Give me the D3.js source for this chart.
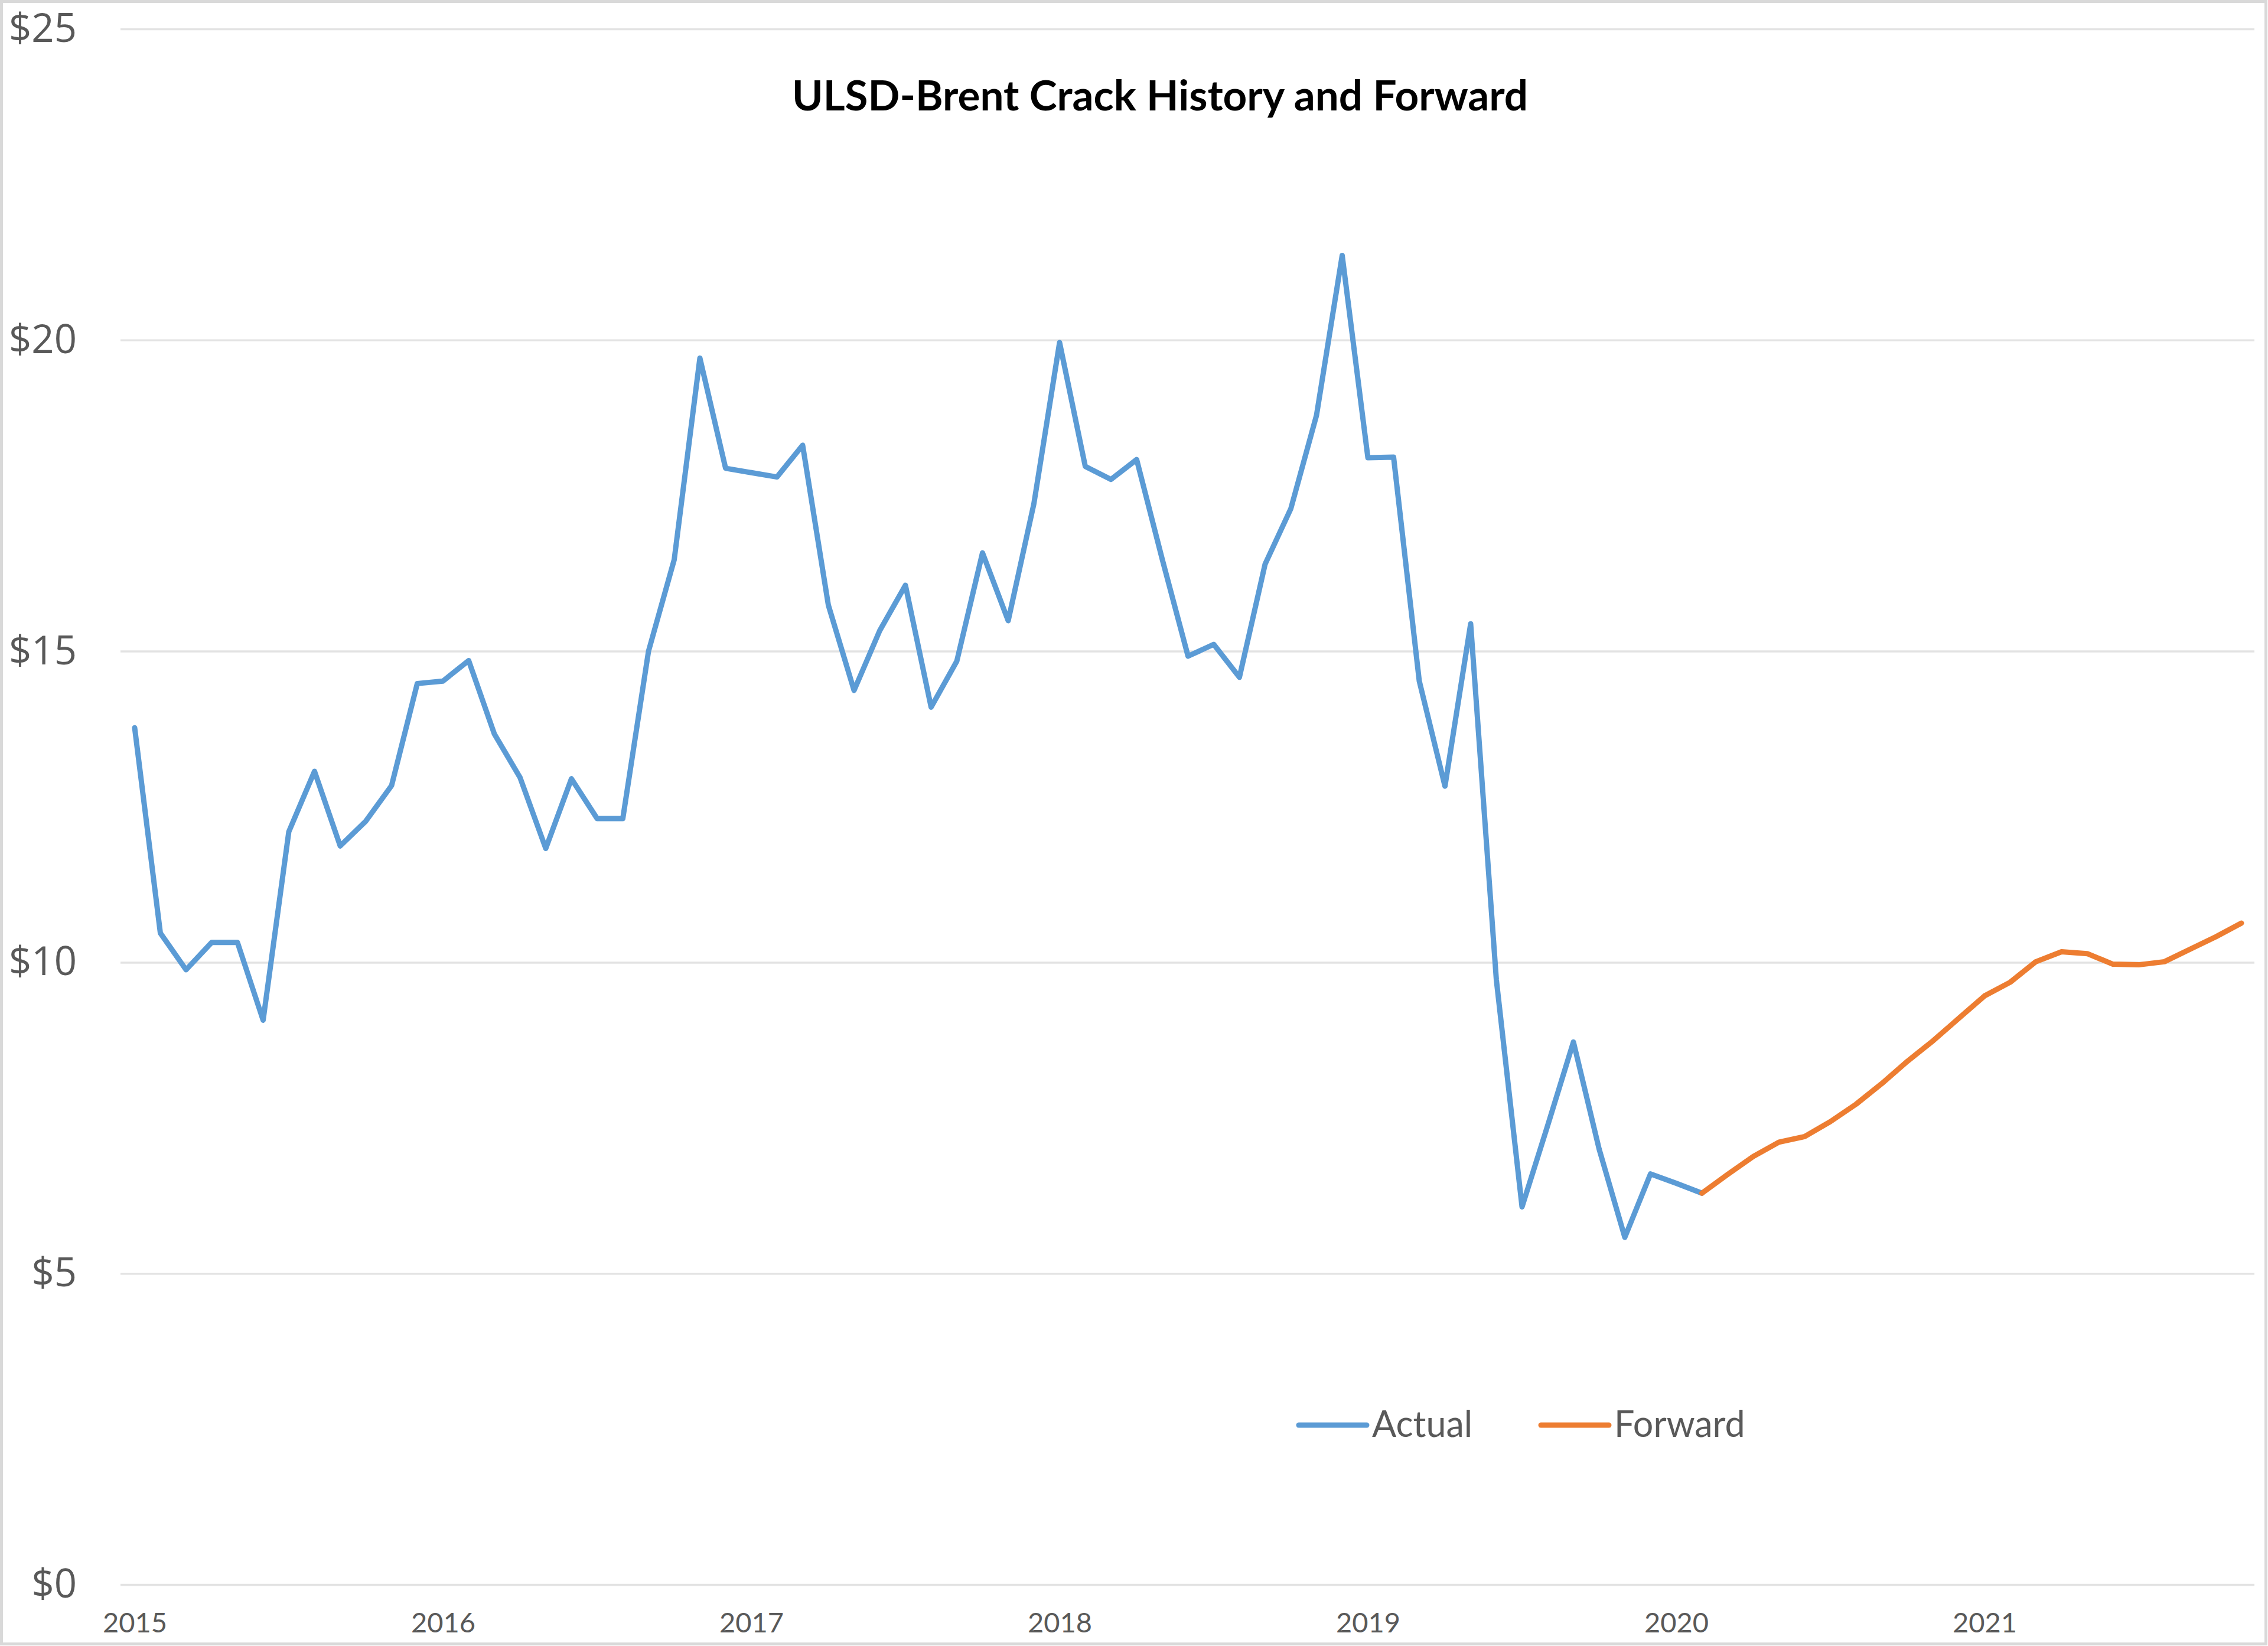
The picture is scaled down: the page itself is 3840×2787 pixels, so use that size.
<!DOCTYPE html>
<html>
<head>
<meta charset="utf-8">
<script src="https://d3js.org/d3.v7.min.js"></script>
<style>
  body { margin: 0; background: #fff; }
</style>
</head>
<body>
<div id="chart"></div>
<script>
// monthly values, Jan 2015 = index 0
var actual = [13.77, 10.47, 9.88, 10.32, 10.32, 9.07, 12.10, 13.07, 11.87, 12.27, 12.84, 14.48,
              14.52, 14.85, 13.67, 12.97, 11.83, 12.95, 12.31, 12.31, 15.00, 16.47, 19.71, 17.94,
              17.87, 17.80, 18.31, 15.74, 14.37, 15.33, 16.06, 14.10, 14.84, 16.58, 15.49, 17.37,
              19.96, 17.97, 17.76, 18.08, 16.47, 14.92, 15.11, 14.58, 16.40, 17.29, 18.79, 21.36,
              18.11, 18.12, 14.52, 12.83, 15.44, 9.72, 6.07, 7.38, 8.72, 7.00, 5.58, 6.60,
              6.45, 6.29];
// forward curve starts where actual ends (Feb 2020 = index 61)
var forwardStart = 61;
var forward = [6.29, 6.59, 6.88, 7.11, 7.20, 7.44, 7.72, 8.05, 8.41, 8.74, 9.10,
               9.46, 9.68, 10.01, 10.17, 10.14, 9.97, 9.96, 10.01, 10.21, 10.41, 10.63];
var years = ["2015", "2016", "2017", "2018", "2019", "2020", "2021"];
var yTicks = [0, 5, 10, 15, 20, 25];
var seriesNames = ["Actual", "Forward"];
var seriesColors = ["#5B9BD5", "#ED7D31"];

var W = 3840, H = 2787;
var plot = {left: 204, right: 3817, top: 49, bottom: 2683};

var svg = d3.select("#chart")
  .append("svg")
    .attr("width", W)
    .attr("height", H);

// outer chart border
svg.append("rect")
  .attr("x", 2.5).attr("y", 2.5)
  .attr("width", W - 6).attr("height", H - 6)
  .attr("fill", "#fff")
  .attr("stroke", "#d9d9d9")
  .attr("stroke-width", 5);

var x = d3.scaleLinear()
  .domain([0, 82])
  .range([228, 3795]);

var y = d3.scaleLinear()
  .domain([0, 25])
  .range([plot.bottom, plot.top]);

// Y axis + gridlines
var yAxis = svg.append("g")
  .attr("transform", "translate(" + plot.left + ",0)")
  .call(d3.axisLeft(y)
    .tickValues(yTicks)
    .tickSize(-(plot.right - plot.left))
    .tickPadding(74)
    .tickFormat(function(d) { return "$" + d; }));
yAxis.select(".domain").remove();
yAxis.selectAll("line")
  .attr("stroke", "#e3e3e3")
  .attr("stroke-width", 3.5);
yAxis.selectAll("text")
  .attr("fill", "#595959")
  .style("font-family", "'Open Sans', sans-serif")
  .style("font-size", "67px");

// X axis (year labels only)
var xAxis = svg.append("g")
  .attr("transform", "translate(0," + plot.bottom + ")")
  .call(d3.axisBottom(x)
    .tickValues(years.map(function(d, i) { return i * 12; }))
    .tickSize(0)
    .tickPadding(48)
    .tickFormat(function(d) { return years[d / 12]; }));
xAxis.select(".domain").remove();
xAxis.selectAll("text")
  .attr("fill", "#595959")
  .style("font-family", "'Liberation Sans Narrow', 'Lato', sans-serif")
  .style("font-size", "47px");

var line = d3.line()
  .x(function(d) { return x(d.i); })
  .y(function(d) { return y(d.v); });

var actualPts = actual.map(function(v, i) { return {i: i, v: v}; });
var forwardPts = forward.map(function(v, i) { return {i: i + forwardStart, v: v}; });

svg.append("path")
  .datum(actualPts)
  .attr("d", line)
  .attr("fill", "none")
  .attr("stroke", seriesColors[0])
  .attr("stroke-width", 9)
  .attr("stroke-linejoin", "round")
  .attr("stroke-linecap", "round");

svg.append("path")
  .datum(forwardPts)
  .attr("d", line)
  .attr("fill", "none")
  .attr("stroke", seriesColors[1])
  .attr("stroke-width", 9)
  .attr("stroke-linejoin", "round")
  .attr("stroke-linecap", "round");

// title
svg.append("text")
  .attr("x", 1964)
  .attr("y", 187)
  .attr("text-anchor", "middle")
  .attr("fill", "#000")
  .style("font-family", "Lato, sans-serif")
  .style("font-weight", "bold")
  .style("font-size", "71px")
  .text("ULSD-Brent Crack History and Forward");

// legend
var legendX = [2199, 2609];
var legend = svg.selectAll(".legend")
  .data(seriesNames)
  .enter()
  .append("g")
    .attr("class", "legend")
    .attr("transform", function(d, i) { return "translate(" + legendX[i] + ",2413)"; });
legend.append("line")
  .attr("x1", 0).attr("x2", 115)
  .attr("y1", 0).attr("y2", 0)
  .attr("stroke", function(d, i) { return seriesColors[i]; })
  .attr("stroke-width", 9)
  .attr("stroke-linecap", "round");
legend.append("text")
  .attr("x", 124)
  .attr("y", 20)
  .attr("fill", "#595959")
  .style("font-family", "Lato, sans-serif")
  .style("font-size", "61px")
  .text(function(d) { return d; });
</script>
</body>
</html>
